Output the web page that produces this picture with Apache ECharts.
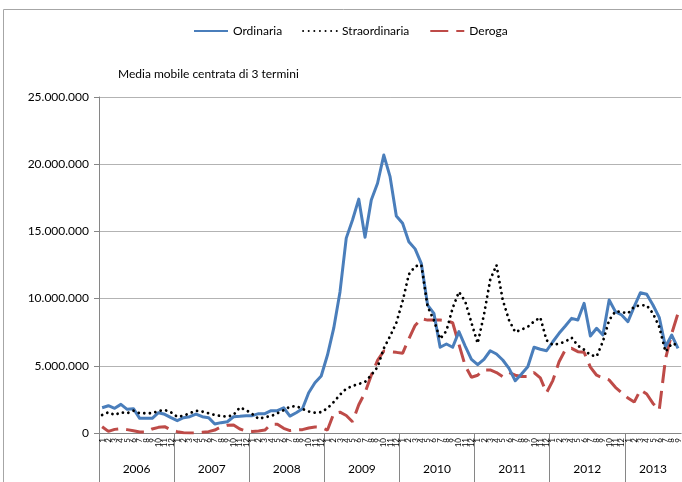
<!DOCTYPE html>
<html>
<head>
<meta charset="utf-8">
<script src="https://cdn.jsdelivr.net/npm/echarts@6/dist/echarts.min.js"></script>
<style>
  html, body { margin: 0; padding: 0; background: #fff; }
  #chart { width: 682px; height: 482px; }
</style>
</head>
<body>
<div id="chart"></div>
<script>
// Calendar: years on the lower axis row, months (1..12) on the upper row
const years = ['2006', '2007', '2008', '2009', '2010', '2011', '2012', '2013'];
const monthsPerYear = [12, 12, 12, 12, 12, 12, 12, 9];

// Monthly values, centred 3-term moving average
const ordinaria = [
  1880000, 2030000, 1840000, 2130000, 1760000, 1810000, 1090000, 1090000, 1090000, 1510000, 1390000, 1140000,
  920000, 1140000, 1210000, 1410000, 1210000, 1140000, 670000, 770000, 840000, 1210000, 1240000, 1290000,
  1290000, 1440000, 1440000, 1660000, 1660000, 1880000, 1260000, 1510000, 1810000, 3000000, 3740000, 4240000,
  5800000, 7800000, 10500000, 14500000, 15850000, 17400000, 14560000, 17340000, 18580000, 20680000, 19070000, 16150000,
  15600000, 14230000, 13700000, 12600000, 9520000, 8900000, 6380000, 6620000, 6380000, 7540000, 6470000, 5480000,
  5080000, 5480000, 6120000, 5880000, 5430000, 4810000, 3890000, 4390000, 4930000, 6380000, 6230000, 6120000,
  6790000, 7420000, 7960000, 8530000, 8410000, 9650000, 7220000, 7790000, 7290000, 9900000, 9030000, 8780000,
  8280000, 9400000, 10440000, 10320000, 9520000, 8600000, 6420000, 7290000, 6300000
];
const straordinaria = [
  1340000, 1540000, 1340000, 1540000, 1470000, 1660000, 1470000, 1470000, 1470000, 1640000, 1710000, 1540000,
  1210000, 1290000, 1470000, 1660000, 1590000, 1470000, 1340000, 1260000, 1210000, 1350000, 1900000, 1700000,
  1410000, 1050000, 1170000, 1260000, 1470000, 1700000, 1960000, 2000000, 1800000, 1600000, 1510000, 1550000,
  1840000, 2300000, 2850000, 3300000, 3500000, 3650000, 3800000, 4320000, 4900000, 6300000, 7200000, 8200000,
  9800000, 11800000, 12400000, 12500000, 9400000, 8400000, 7000000, 7600000, 9300000, 10500000, 9800000, 8200000,
  6670000, 8800000, 11400000, 12500000, 9900000, 8400000, 7500000, 7700000, 7900000, 8300000, 8600000, 6900000,
  6550000, 6650000, 6800000, 7100000, 6500000, 6200000, 5800000, 5700000, 6800000, 8400000, 9050000, 9000000,
  8900000, 9400000, 9500000, 9500000, 8900000, 7900000, 6050000, 6650000, 6550000
];
const deroga = [
  470000, 120000, 270000, 320000, 250000, 170000, 70000, 70000, 300000, 420000, 470000, 220000,
  100000, 20000, 0, 0, 50000, 100000, 220000, 450000, 570000, 600000, 300000, 150000,
  120000, 150000, 220000, 650000, 650000, 350000, 180000, 220000, 250000, 370000, 450000, 420000,
  220000, 1450000, 1550000, 1300000, 840000, 2100000, 3000000, 4300000, 5400000, 6100000, 6050000, 6000000,
  5930000, 7000000, 8000000, 8500000, 8400000, 8410000, 8410000, 8350000, 8200000, 6600000, 5000000, 4150000,
  4300000, 4690000, 4690000, 4500000, 4200000, 4500000, 4300000, 4200000, 4200000, 4500000, 4100000, 3000000,
  3900000, 5300000, 6200000, 6300000, 6050000, 6000000, 4900000, 4300000, 4100000, 3950000, 3400000, 3000000,
  2600000, 2300000, 3200000, 2900000, 2200000, 1700000, 5500000, 7400000, 8900000
];

// Month labels per category, and year boundaries / centres on the month scale
const monthLabels = [];
const yearStarts = [];
const yearCenters = [];
let pos = 0;
monthsPerYear.forEach(function (n) {
  yearStarts.push(pos);
  yearCenters.push(pos + n / 2);
  for (let m = 1; m <= n; m++) monthLabels.push(String(m));
  pos += n;
});
const totalMonths = pos;

const FONT = 'Lato';
const AXIS_GREY = '#868686';

function itNumber(v) {
  return String(Math.round(v)).replace(/\B(?=(\d{3})+(?!\d))/g, '.');
}

const chart = echarts.init(document.getElementById('chart'), null, { renderer: 'canvas' });
chart.setOption({
  animation: false,
  backgroundColor: '#fff',
  textStyle: { fontFamily: FONT, color: '#000' },
  graphic: [{
    type: 'rect',
    z: -1,
    shape: { x: 3.5, y: 9.5, width: 720, height: 520 },
    style: { fill: 'none', stroke: '#a6a6a6', lineWidth: 1 }
  }],
  title: {
    text: 'Media mobile centrata di 3 termini',
    left: 113,
    top: 63,
    textStyle: { fontFamily: FONT, fontSize: 12, fontWeight: 'normal', color: '#000' }
  },
  legend: {
    data: ['Ordinaria', 'Straordinaria', 'Deroga'],
    left: 188,
    top: 20,
    itemWidth: 34,
    itemHeight: 12,
    itemGap: 20,
    itemStyle: { opacity: 0 },
    textStyle: { fontFamily: FONT, fontSize: 12, color: '#000' }
  },
  grid: { left: 99, right: 0, top: 97, bottom: 49 },
  xAxis: [{
    type: 'category',
    data: monthLabels,
    boundaryGap: true,
    axisLine: { lineStyle: { color: AXIS_GREY } },
    axisTick: { interval: 0, length: 21, lineStyle: { color: AXIS_GREY } },
    axisLabel: { interval: 0, rotate: 90, fontSize: 8, margin: 5, color: '#000', fontFamily: FONT },
    splitLine: { show: false }
  }, {
    type: 'value',
    position: 'bottom',
    min: 0,
    max: totalMonths,
    axisLine: { show: false },
    splitLine: { show: false },
    axisTick: { show: true, customValues: yearStarts, length: 49, lineStyle: { color: AXIS_GREY } },
    axisLabel: {
      customValues: yearCenters,
      margin: 30,
      fontSize: 12,
      color: '#000',
      fontFamily: FONT,
      formatter: function (v) {
        const k = yearCenters.indexOf(v);
        return k >= 0 ? years[k] : '';
      }
    }
  }],
  yAxis: {
    type: 'value',
    min: 0,
    max: 25000000,
    interval: 5000000,
    axisLine: { show: true, lineStyle: { color: AXIS_GREY } },
    axisTick: { show: true, length: 5, lineStyle: { color: AXIS_GREY } },
    axisLabel: { fontSize: 12, margin: 10, color: '#000', fontFamily: FONT, formatter: itNumber },
    splitLine: { lineStyle: { color: '#b3b3b3', width: 1 } }
  },
  series: [{
    name: 'Ordinaria',
    type: 'line',
    data: ordinaria,
    symbol: 'none',
    lineStyle: { color: '#4a7ebb', width: 3, join: 'round' },
    itemStyle: { color: '#4a7ebb' },
    z: 3
  }, {
    name: 'Straordinaria',
    type: 'line',
    data: straordinaria,
    symbol: 'none',
    lineStyle: { color: '#000', width: 2.8, type: [0.01, 5.6], cap: 'round' },
    itemStyle: { color: '#000' },
    z: 4
  }, {
    name: 'Deroga',
    type: 'line',
    data: deroga,
    symbol: 'none',
    lineStyle: { color: '#be4b48', width: 3, type: [18, 8] },
    itemStyle: { color: '#be4b48' },
    z: 2
  }]
});
</script>
</body>
</html>
